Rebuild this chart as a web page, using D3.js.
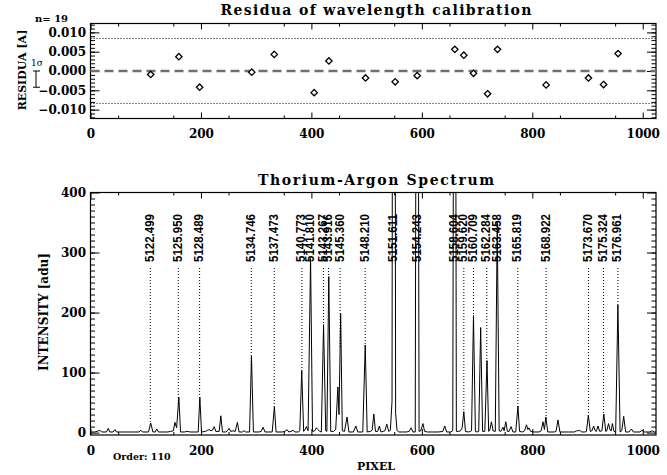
<!DOCTYPE html>
<html>
<head>
<meta charset="utf-8">
<script src="https://cdn.jsdelivr.net/npm/d3@7"></script>
<style>
body { margin: 0; background: #fff; }
</style>
</head>
<body>
<script>
// residuals of the fitted lines
const resPixel = [109, 160, 197.6, 292, 332.7, 405, 431.7, 498, 551.7, 591.6, 659.7, 676, 693.5, 719, 737, 825, 901.7, 929, 955.3];
const resValue = [-0.0009, 0.0037, -0.0042, -0.0003, 0.0043, -0.0056, 0.0026, -0.0018, -0.0028, -0.0012, 0.0056, 0.0041, -0.0006, -0.0059, 0.0056, -0.0036, -0.0018, -0.0035, 0.0045];
const sigma = 0.0042;

// identified thorium-argon lines
const lineWave = ["5122.499", "5125.950", "5128.489", "5134.746", "5137.473", "5140.773", "5141.810", "5143.267", "5143.916", "5145.360", "5148.210", "5151.611", "5154.243", "5158.604", "5159.620", "5160.709", "5162.284", "5163.458", "5165.819", "5168.922", "5173.670", "5175.324", "5176.961"];
const linePixel = [108.3, 159, 197.6, 291.1, 332.7, 382.8, 398.5, 422, 431, 452, 497.4, 549, 591.5, 660, 676, 693.5, 717.6, 736.3, 773.8, 825, 901.7, 929, 955];

// extracted spectrum, [pixel, counts]
const spectrum = [
  [0,1],[8,1],[12,2],[17,4],[20,1],[29,1],[32,7],[35,1],[41,1],[44,5],[47,1],[60,1],[75,1],[88,1],[91,4],[94,1],
  [105,1],[109,16],[113,1],[117,1],[120,6],[123,1],[140,1],[145,2],[150,3],[153,17],[156,8],[160,59],[163,1],
  [170,1],[175,2],[181,1],[195,1],[198,59],[201,1],[208,2],[212,4],[215,5],[218,3],[221,4],[224,10],[227,2],
  [233,2],[236,28],[239,1],[245,1],[248,3],[251,7],[254,2],[258,3],[262,2],[266,17],[269,1],[275,1],[278,3],
  [281,1],[288,1],[291.5,127],[295,1],[305,1],[309,2],[312.5,9],[316,1],[329,1],[333,43],[336,1],[347,1],
  [352,2],[356,5],[359,1],[363,2],[367,4],[370,1],[376,1],[379,3],[382.5,103],[386,2],[389,6],[391,10],[394,3],
  [398.5,290],[402,2],[406,3],[409,8],[412,5],[415,2],[418,1],[422,180],[426,3],[428,2],[431.5,260],[435,2],
  [440,2],[444,5],[448,76],[450,30],[453,198],[456,3],[460,2],[464.5,26],[468,1],[476,1],[480.5,11],[484,1],
  [493,1],[497.5,146],[501,1],[507,2],[510,4],[513,31],[516,2],[520,2],[523,11],[526,1],[530,2],[533,3],
  [536.5,14],[540,2],[543,4],[546,52],[548,1500],[550.5,1500],[552.5,33],[555,4],[558,1],[565,1],[572,1],
  [577,2],[580.5,8],[584,1],[588,1],[591.5,1500],[595,2],[598,3],[602,15],[605,2],[610,1],[620,1],[630,1],
  [638,2],[641.5,11],[645,1],[652,1],[656,3],[659.5,1500],[662.5,2],[666,2],[670,3],[673,8],[676,35],[679,2],
  [684,1],[688,2],[690,3],[693.5,195],[697,2],[700,1],[703,2],[706.5,175],[710,2],[714,2],[718,120],[721,2],
  [723,4],[726,18],[729,3],[733,2],[736.5,350],[740,3],[743,2],[747,9],[749,3],[752,18],[755,2],[758,2],
  [761.5,10],[765,1],[770,1],[774,44],[777,2],[782,1],[786,3],[789.5,13],[792,5],[794,8],[797,2],[803,1],
  [812,1],[816,3],[819.5,18],[822,5],[824.5,26],[828,1],[840,1],[843,2],[846.5,21],[850,1],[865,1],[876,1],
  [880,3],[883,3],[886,4],[889,1],[895,1],[898,2],[901.5,29],[905,2],[908,3],[911,11],[914,3],[916,2],
  [919,11],[922,2],[926,3],[929.5,31],[933,2],[935,3],[938,15],[941,4],[943,3],[945,15],[948,2],[951,1],
  [955,213],[959,1],[962,3],[965.5,27],[969,1],[975,1],[979.5,6],[983,1],[995,1],[998.5,4],[1002,1],
  [1012,1],[1017.5,3],[1021,1],[1024,1]
];

const xTicks = [0, 200, 400, 600, 800, 1000];
const resTicks = [-0.010, -0.005, 0, 0.005, 0.010];
const specTicks = [0, 100, 200, 300, 400];
const order = 110;

const serif = "'DejaVu Serif', serif";

const svg = d3.select("body").append("svg")
    .attr("width", 667)
    .attr("height", 475);

const x = d3.scaleLinear().domain([0, 1024]).range([90.5, 656]);
const yRes = d3.scaleLinear().domain([-0.0123, 0.0123]).range([118.5, 23.5]);
const ySpec = d3.scaleLinear().domain([-4, 400]).range([435, 192.5]);

// small helper for plain text labels
function label(px, py, str, size, weight, anchor) {
    return svg.append("text")
        .attr("x", px).attr("y", py)
        .attr("text-anchor", anchor || "start")
        .style("font-family", serif)
        .style("font-size", size + "px")
        .style("font-weight", weight)
        .text(str);
}

// draws the box, ticks inside, and labels of one panel
function frame(y, yMajor, yMinor, fmt) {
    const [bottom, top] = y.range();
    const style = g => {
        g.select(".domain").remove();
        g.selectAll("line").attr("stroke", "#000");
        g.selectAll("text")
            .style("font-size", "12px")
            .style("font-family", serif)
            .style("font-weight", "bold")
            .attr("fill", "#000");
    };
    svg.append("g").attr("transform", `translate(0,${bottom})`)
        .call(d3.axisBottom(x).tickValues(xTicks).tickSize(-6).tickPadding(11).tickFormat(d3.format("d"))).call(style);
    svg.append("g").attr("transform", `translate(0,${bottom})`)
        .call(d3.axisBottom(x).tickValues(d3.range(50, 1024, 100)).tickSize(-3).tickFormat("")).call(style);
    svg.append("g").attr("transform", `translate(0,${top})`)
        .call(d3.axisTop(x).tickValues(xTicks).tickSize(-6).tickFormat("")).call(style);
    svg.append("g").attr("transform", `translate(0,${top})`)
        .call(d3.axisTop(x).tickValues(d3.range(50, 1024, 100)).tickSize(-3).tickFormat("")).call(style);
    svg.append("g").attr("transform", `translate(${x.range()[0]},0)`)
        .call(d3.axisLeft(y).tickValues(yMajor).tickSize(-9).tickPadding(4.5).tickFormat(fmt)).call(style);
    svg.append("g").attr("transform", `translate(${x.range()[0]},0)`)
        .call(d3.axisLeft(y).tickValues(yMinor).tickSize(-4.5).tickFormat("")).call(style);
    svg.append("g").attr("transform", `translate(${x.range()[1]},0)`)
        .call(d3.axisRight(y).tickValues(yMajor).tickSize(-9).tickFormat("")).call(style);
    svg.append("g").attr("transform", `translate(${x.range()[1]},0)`)
        .call(d3.axisRight(y).tickValues(yMinor).tickSize(-4.5).tickFormat("")).call(style);
    svg.append("rect")
        .attr("x", x.range()[0]).attr("y", top)
        .attr("width", x.range()[1] - x.range()[0]).attr("height", bottom - top)
        .attr("fill", "none").attr("stroke", "#000").attr("stroke-width", 1.2);
}

// ---------- residuals panel ----------
frame(yRes, resTicks, d3.range(-12, 13).map(d => d / 1000), d3.format(".3f"));

svg.append("line")
    .attr("x1", x(0)).attr("x2", x(1024))
    .attr("y1", yRes(0)).attr("y2", yRes(0))
    .attr("stroke", "#707070").attr("stroke-width", 2.6).attr("stroke-dasharray", "9,5");

[2 * sigma, -2 * sigma].forEach(v => {
    svg.append("line")
        .attr("x1", x(0)).attr("x2", x(1024))
        .attr("y1", yRes(v)).attr("y2", yRes(v))
        .attr("stroke", "#000").attr("stroke-width", 1).attr("stroke-dasharray", "1,2");
});

svg.append("g").selectAll("path")
    .data(resPixel)
    .join("path")
    .attr("d", (d, i) => {
        const cx = x(d), cy = yRes(resValue[i]), r = 3.2;
        return `M${cx},${cy - r}L${cx + r},${cy}L${cx},${cy + r}L${cx - r},${cy}Z`;
    })
    .attr("fill", "#fff").attr("stroke", "#000").attr("stroke-width", 1.3);

// 1 sigma bar
const sb = svg.append("g").attr("stroke", "#000").attr("stroke-width", 1);
sb.append("line").attr("x1", 36).attr("x2", 36).attr("y1", yRes(0)).attr("y2", yRes(-sigma));
sb.append("line").attr("x1", 33).attr("x2", 40).attr("y1", yRes(0)).attr("y2", yRes(0));
sb.append("line").attr("x1", 33).attr("x2", 40).attr("y1", yRes(-sigma)).attr("y2", yRes(-sigma));
label(37, 65.5, "1σ", 9, "normal", "middle");

label(35, 21.5, "n= " + resPixel.length, 10, "bold");

label(376, 14.5, "Residua of wavelength calibration", 14, "bold", "middle")
    .attr("textLength", 311).attr("lengthAdjust", "spacing");

label(0, 0, "RESIDUA [A]", 11, "bold", "middle")
    .attr("x", null).attr("y", null)
    .attr("transform", `translate(26,${yRes(0) - 1}) rotate(-90)`);

// ---------- spectrum panel ----------
frame(ySpec, specTicks, d3.range(10, 400, 10), d3.format("d"));

svg.append("clipPath").attr("id", "clip")
    .append("rect")
    .attr("x", x(0)).attr("y", ySpec(400))
    .attr("width", x(1024) - x(0)).attr("height", ySpec(-4) - ySpec(400));

// value of the spectrum at a pixel, for the end of the marker lines
const bis = d3.bisector(d => d[0]).left;
function specAt(p) {
    const i = bis(spectrum, p);
    const a = spectrum[Math.max(i - 1, 0)], b = spectrum[Math.min(i, spectrum.length - 1)];
    if (b[0] === a[0]) return b[1];
    return a[1] + (b[1] - a[1]) * (p - a[0]) / (b[0] - a[0]);
}

svg.append("g").selectAll("line")
    .data(linePixel)
    .join("line")
    .attr("x1", d => x(d)).attr("x2", d => x(d))
    .attr("y1", 268)
    .attr("y2", d => Math.max(268, ySpec(Math.min(specAt(d), 400))))
    .attr("stroke", "#000").attr("stroke-width", 1).attr("stroke-dasharray", "1,2");

svg.append("path")
    .datum(spectrum)
    .attr("clip-path", "url(#clip)")
    .attr("d", d3.line().x(d => x(d[0])).y(d => ySpec(d[1])))
    .attr("fill", "none").attr("stroke", "#000").attr("stroke-width", 1);

svg.append("g").selectAll("text")
    .data(lineWave)
    .join("text")
    .attr("transform", (d, i) => `translate(${x(linePixel[i]) + 3.5},262) rotate(-90)`)
    .attr("textLength", 48).attr("lengthAdjust", "spacingAndGlyphs")
    .style("font-family", "'Liberation Sans', Arial, sans-serif")
    .style("font-weight", "bold")
    .style("font-size", "12px")
    .text(d => d);

label(376, 185, "Thorium-Argon Spectrum", 14, "bold", "middle")
    .attr("textLength", 236).attr("lengthAdjust", "spacing");

label(0, 0, "INTENSITY [adu]", 12, "bold", "middle")
    .attr("x", null).attr("y", null)
    .attr("transform", "translate(48,312) rotate(-90)");

label(376, 470, "PIXEL", 11, "bold", "middle");
label(113, 460, "Order: " + order, 9.5, "bold");
</script>
</body>
</html>
